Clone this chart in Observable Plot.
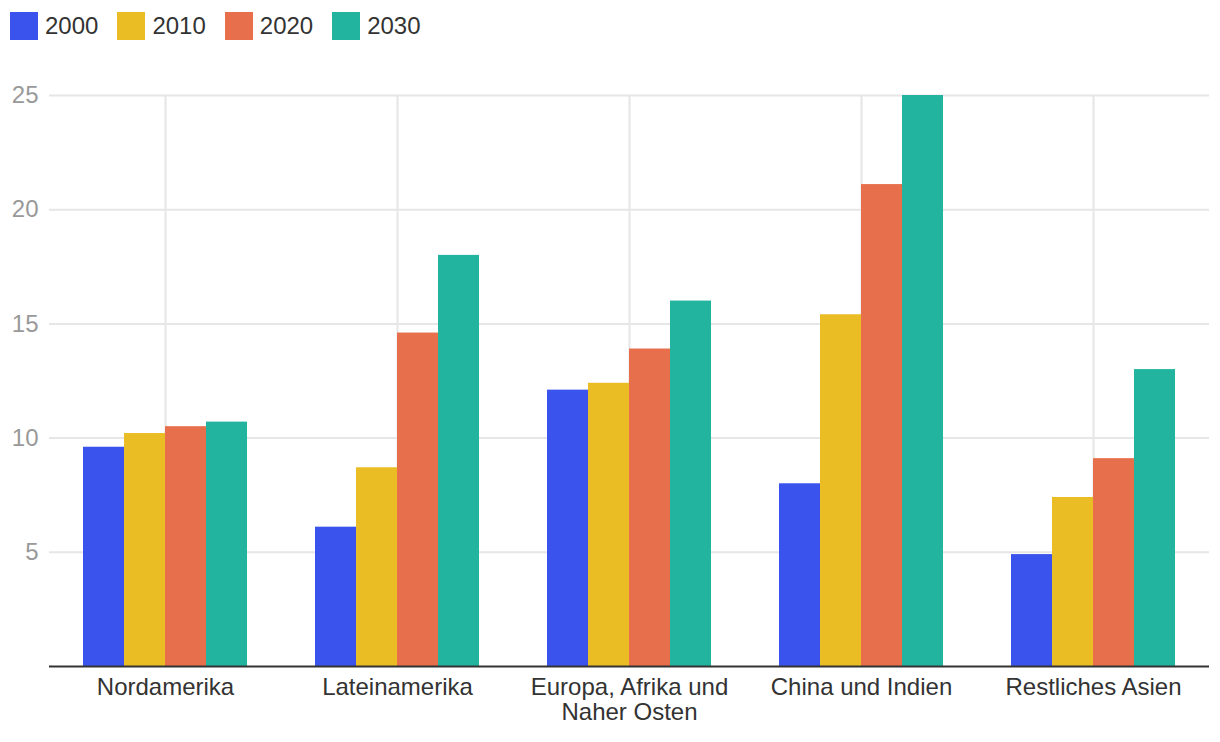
<!DOCTYPE html>
<html>
<head>
<meta charset="utf-8">
<script src="https://cdn.jsdelivr.net/npm/d3@7"></script>
<script src="https://cdn.jsdelivr.net/npm/@observablehq/plot@0.6"></script>
<style>
  body { margin: 0; background: #fff; font-family: "Liberation Sans", Arial, Helvetica, sans-serif; }
  #legend { height: 50px; display: flex; gap: 19px; padding-left: 10px; align-items: flex-start; box-sizing: border-box; padding-top: 12px; }
  .item { display: flex; align-items: center; font-size: 24px; color: #333; height: 28px; }
  .sw { width: 28px; height: 28px; margin-right: 7px; }
</style>
</head>
<body>
<div id="legend"></div>
<div id="chart"></div>
<script>
const categories = ["Nordamerika", "Lateinamerika", "Europa, Afrika und\nNaher Osten", "China und Indien", "Restliches Asien"];
const years = ["2000", "2010", "2020", "2030"];
const values2000 = [9.6, 6.1, 12.1, 8.0, 4.9];
const values2010 = [10.2, 8.7, 12.4, 15.4, 7.4];
const values2020 = [10.5, 14.6, 13.9, 21.1, 9.1];
const values2030 = [10.7, 18.0, 16.0, 25.0, 13.0];
const yTicks = [5, 10, 15, 20, 25];
const colors = ["#3a53ec", "#ebbd24", "#e76f4c", "#23b4a0"];

const series = [values2000, values2010, values2020, values2030];
const data = categories.flatMap((c, i) => years.map((y, j) => ({region: c, year: y, value: series[j][i]})));

const legend = document.getElementById("legend");
years.forEach((y, j) => {
  const it = document.createElement("div");
  it.className = "item";
  const sw = document.createElement("div");
  sw.className = "sw";
  sw.style.background = colors[j];
  it.appendChild(sw);
  it.appendChild(document.createTextNode(y));
  legend.appendChild(it);
});

const chart = Plot.plot({
  width: 1220,
  height: 692,
  marginTop: 45,
  marginBottom: 76,
  marginLeft: 49,
  marginRight: 11,
  style: { fontFamily: '"Liberation Sans", Arial, Helvetica, sans-serif', fontSize: "24px", background: "#fff" },
  fx: { domain: categories, padding: 0, label: null },
  x: { domain: years, paddingInner: 0, paddingOuter: 0.82, axis: null },
  y: { domain: [0, 25], label: null },
  color: { domain: years, range: colors },
  marks: [
    Plot.gridFx({ stroke: "#e6e6e6", strokeOpacity: 1, strokeWidth: 2 }),
    Plot.gridY(yTicks, { stroke: "#e6e6e6", strokeOpacity: 1, strokeWidth: 2 }),
    Plot.barY(data, { fx: "region", x: "year", y: "value", fill: "year" }),
    Plot.ruleY([0], { stroke: "#333", strokeWidth: 2 }),
    Plot.axisY(yTicks, { tickSize: 0, tickPadding: 11, fill: "#999", fontSize: 24, label: null }),
    Plot.axisFx({ anchor: "bottom", tickSize: 0, tickPadding: 11, fill: "#333", fontSize: 24, label: null, lineHeight: 1.04 })
  ]
});
document.getElementById("chart").appendChild(chart);
</script>
</body>
</html>
